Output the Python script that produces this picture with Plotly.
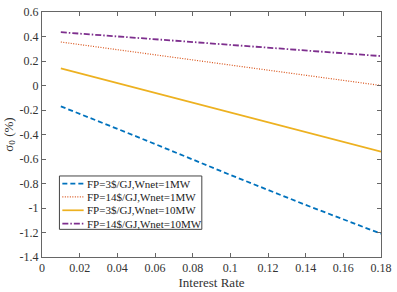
import plotly.graph_objects as go

rate = [0.01, 0.05, 0.10, 0.14, 0.18]
fp3_w1 = [-0.17, -0.415, -0.73, -0.975, -1.21]
fp14_w1 = [0.355, 0.27, 0.165, 0.08, 0.0]
fp3_w10 = [0.14, -0.02, -0.22, -0.38, -0.54]
fp14_w10 = [0.435, 0.39, 0.335, 0.288, 0.24]
names = ["FP=3$/GJ,Wnet=1MW", "FP=14$/GJ,Wnet=1MW", "FP=3$/GJ,Wnet=10MW", "FP=14$/GJ,Wnet=10MW"]
series = [fp3_w1, fp14_w1, fp3_w10, fp14_w10]
colors = ["#0072BD", "#D95319", "#EDB120", "#7E2F8E"]
dashes = ["5px,3px", "1px,1.5px", "solid", "6px,2px,1.5px,2px"]
widths = [1.8, 1.2, 1.7, 1.8]

xticks = [0, 0.02, 0.04, 0.06, 0.08, 0.1, 0.12, 0.14, 0.16, 0.18]
xticktext = ["0", "0.02", "0.04", "0.06", "0.08", "0.1", "0.12", "0.14", "0.16", "0.18"]
yticks = [-1.4, -1.2, -1.0, -0.8, -0.6, -0.4, -0.2, 0, 0.2, 0.4, 0.6]
yticktext = ["-1.4", "-1.2", "-1", "-0.8", "-0.6", "-0.4", "-0.2", "0", "0.2", "0.4", "0.6"]

W, H = 397, 292
ML, MR, MT, MB = 42, 5, 5, 30
PW, PH = W - ML - MR, H - MT - MB

def px(x):
    return (x - ML) / PW

def py(y):
    return (H - MB - y) / PH

SERIF = "Liberation Serif, Times New Roman, serif"

fig = go.Figure()
for n, s, c, d, w in zip(names, series, colors, dashes, widths):
    fig.add_trace(go.Scatter(x=rate, y=s, name=n, mode="lines", showlegend=False,
                             line=dict(color=c, dash=d, width=w)))

# manual legend (compact, MATLAB-like)
shapes = [dict(type="rect", xref="paper", yref="paper",
               x0=px(60), x1=px(207), y0=py(233), y1=py(177),
               line=dict(color="#444444", width=1), fillcolor="white", layer="above")]
annotations = []
row_y = [185, 199, 213, 227]
for n, c, d, w, ry in zip(names, colors, dashes, widths, row_y):
    shapes.append(dict(type="line", xref="paper", yref="paper",
                       x0=px(63), x1=px(85), y0=py(ry), y1=py(ry),
                       line=dict(color=c, dash=d, width=w), layer="above"))
    annotations.append(dict(xref="paper", yref="paper", x=px(86), y=py(ry),
                            xanchor="left", yanchor="middle", text=n.replace("$", "&#36;"),
                            showarrow=False,
                            font=dict(family=SERIF, size=11, color="#222222")))

font = dict(family=SERIF, size=12, color="#333333")
axis_common = dict(ticks="inside", ticklen=4, tickcolor="#666666", showline=True,
                   linecolor="#666666", linewidth=1, mirror="ticks", showgrid=False,
                   zeroline=False, ticklabeloverflow="allow")
fig.update_layout(
    width=W, height=H,
    margin=dict(l=ML, r=MR, t=MT, b=MB),
    paper_bgcolor="white", plot_bgcolor="white",
    font=font,
    showlegend=False,
    xaxis=dict(range=[0, 0.18], tickvals=xticks, ticktext=xticktext,
               title=dict(text="Interest Rate", standoff=2,
                          font=dict(family=SERIF, size=13, color="#333333")),
               **axis_common),
    yaxis=dict(range=[-1.4, 0.6], tickvals=yticks, ticktext=yticktext,
               title=dict(text="σ<sub>0</sub> (%)", standoff=3,
                          font=dict(family=SERIF, size=13, color="#333333")),
               **axis_common),
    shapes=shapes,
    annotations=annotations,
)
fig.write_html("out.html")
